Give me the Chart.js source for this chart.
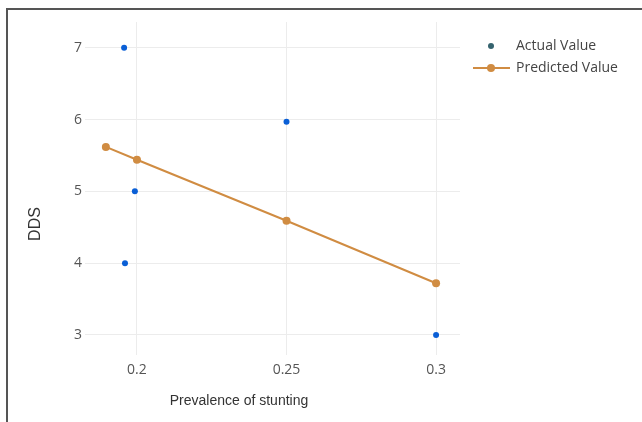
<!DOCTYPE html>
<html>
<head>
<meta charset="utf-8">
<script src="https://cdn.jsdelivr.net/npm/chart.js@4.4.1/dist/chart.umd.min.js"></script>
<style>
  html, body { margin: 0; padding: 0; background: #fff; }
  #wrap { position: relative; width: 642px; height: 422px; }
  #frame { position: absolute; left: 6px; top: 8px; right: 0; bottom: 0;
           border-top: 2px solid #555; border-left: 2px solid #555; pointer-events: none; }
</style>
</head>
<body>
<div id="wrap">
  <canvas id="chart" width="642" height="422"></canvas>
  <div id="frame"></div>
</div>
<script>
// data
const actualX = [0.1957, 0.25, 0.1993, 0.196, 0.3];
const actualY = [7, 5.97, 5, 4, 3];
const predictedX = [0.1896, 0.2, 0.25, 0.3];
const predictedY = [5.62, 5.44, 4.59, 3.72];
const xTicks = [0.2, 0.25, 0.3];
const yTicks = [3, 4, 5, 6, 7];
const seriesNames = ['Actual Value', 'Predicted Value'];
const xTitle = 'Prevalence of stunting';
const yTitle = 'DDS';

const gridColor = '#ececec';
const tickColor = '#555';
const blue = '#0a5fd6';
const orange = '#d08c42';

// axis titles + legend drawn by hand, like the plotly original
const extras = {
    id: 'extras',
    afterDraw(chart) {
        const ctx = chart.ctx;
        ctx.save();
        ctx.fillStyle = '#333';
        ctx.textAlign = 'center';
        ctx.textBaseline = 'middle';
        ctx.font = '14px "Liberation Sans", Arial, sans-serif';
        ctx.fillText(xTitle, 239, 401);
        ctx.translate(36, 224);
        ctx.rotate(-Math.PI / 2);
        ctx.font = '16px "Liberation Sans", Arial, sans-serif';
        ctx.fillText(yTitle, 0, 0);
        ctx.restore();

        // legend
        ctx.save();
        ctx.fillStyle = '#35636e';
        ctx.beginPath();
        ctx.arc(491, 46, 3, 0, Math.PI * 2);
        ctx.fill();
        ctx.strokeStyle = orange;
        ctx.lineWidth = 2;
        ctx.beginPath();
        ctx.moveTo(473, 68);
        ctx.lineTo(510, 68);
        ctx.stroke();
        ctx.fillStyle = orange;
        ctx.beginPath();
        ctx.arc(491, 68, 4, 0, Math.PI * 2);
        ctx.fill();
        ctx.fillStyle = '#444';
        ctx.font = '14px "Open Sans", sans-serif';
        ctx.textAlign = 'left';
        ctx.textBaseline = 'middle';
        ctx.fillText(seriesNames[0], 516, 46);
        ctx.fillText(seriesNames[1], 516, 68);
        ctx.restore();
    }
};

new Chart(document.getElementById('chart'), {
    type: 'scatter',
    data: {
        datasets: [
            {
                label: seriesNames[0],
                data: actualX.map((x, i) => ({ x: x, y: actualY[i] })),
                backgroundColor: blue,
                borderColor: blue,
                pointRadius: 3,
                pointBorderWidth: 0
            },
            {
                label: seriesNames[1],
                type: 'line',
                data: predictedX.map((x, i) => ({ x: x, y: predictedY[i] })),
                borderColor: orange,
                backgroundColor: orange,
                borderWidth: 2,
                pointRadius: 4,
                pointBorderWidth: 0,
                fill: false,
                tension: 0
            }
        ]
    },
    options: {
        responsive: false,
        animation: false,
        layout: { padding: { left: 0, right: 182, top: 22, bottom: 0 } },
        plugins: { legend: { display: false }, tooltip: { enabled: false } },
        scales: {
            x: {
                type: 'linear',
                min: 0.1843,
                max: 0.308,
                afterBuildTicks: scale => { scale.ticks = xTicks.map(v => ({ value: v })); },
                afterFit: scale => { scale.height = 67; },
                grid: { color: gridColor, drawTicks: false },
                border: { display: false },
                ticks: {
                    color: tickColor,
                    padding: 7,
                    font: { family: '"Open Sans", sans-serif', size: 14 },
                    callback: v => String(v)
                }
            },
            y: {
                type: 'linear',
                min: 2.72,
                max: 7.36,
                afterBuildTicks: scale => { scale.ticks = yTicks.map(v => ({ value: v })); },
                afterFit: scale => { scale.width = 90; },
                grid: { color: gridColor, drawTicks: true, tickLength: 5, tickColor: gridColor },
                border: { display: false },
                ticks: {
                    color: tickColor,
                    padding: 3,
                    font: { family: '"Open Sans", sans-serif', size: 14 },
                    callback: v => String(v)
                }
            }
        }
    },
    plugins: [extras]
});
</script>
</body>
</html>
